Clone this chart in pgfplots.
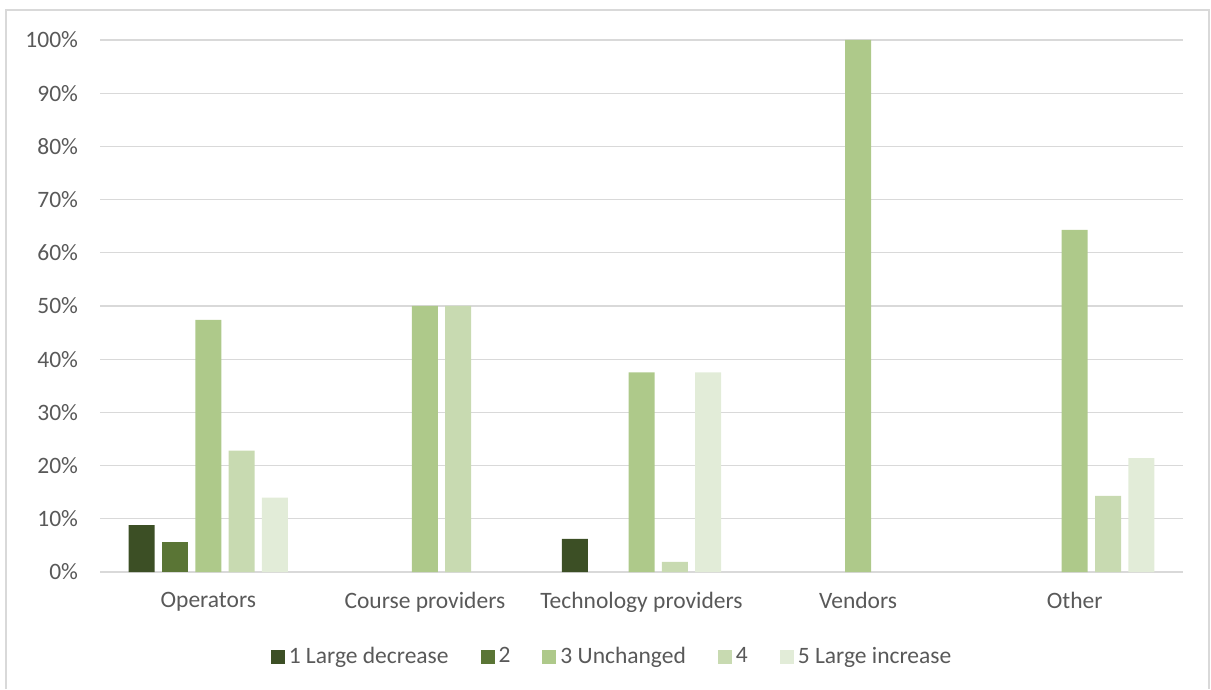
\documentclass[border=0pt]{standalone}
\usepackage{pgfplots}
\pgfplotsset{compat=1.18}
\usepackage{fontspec}
\setmainfont{Carlito}
\definecolor{txt}{HTML}{595959}
\definecolor{gridc}{HTML}{D9D9D9}
\definecolor{cA}{HTML}{3C4F25}
\definecolor{cB}{HTML}{5A7535}
\definecolor{cC}{HTML}{AEC98A}
\definecolor{cD}{HTML}{C8DAB1}
\definecolor{cE}{HTML}{E2ECD8}
\begin{document}
\fontsize{23.5}{28}\selectfont
\begin{tikzpicture}
\useasboundingbox (0pt,0pt) rectangle (1211pt,689pt);
\draw[gridc, line width=1.5pt] (6pt,0pt) -- (6pt,679pt) -- (1209pt,679pt) -- (1209pt,0pt);
\begin{axis}[
  at={(100pt,117pt)}, anchor=south west,
  scale only axis, width=1083pt, height=532pt,
  ybar=7.3pt, bar width=26pt,
  xmin=-0.5, xmax=4.5, ymin=0, ymax=100,
  xtick={0,1,2,3,4},
  xticklabels={Operators, Course providers, Technology providers, Vendors, Other},
  ytick={0,10,...,100},
  yticklabel={\pgfmathprintnumber{\tick}\%},
  /pgf/number format/assume math mode=true,
  tick style={draw=none},
  ymajorgrids, grid style={gridc, line width=1.2pt},
  axis lines*=left,
  y axis line style={draw=none},
  x axis line style={gridc, line width=1.5pt},
  tick label style={text=txt, font=\fontsize{23.5}{28}\selectfont},
  yticklabel style={anchor=east, xshift=-14pt},
  xticklabel style={yshift=-8pt},
  legend style={at={(0.4728,-0.1598)}, anchor=center, draw=none, fill=none,
    legend columns=5, text=txt, font=\fontsize{23.5}{28}\selectfont,
    /tikz/every even column/.append style={column sep=30pt},
    /tikz/every odd column/.append style={column sep=2pt}},
  legend cell align=left,
  legend image code/.code={\fill[#1] (0pt,-7pt) rectangle (14pt,7pt);},
]
\addplot[fill=cA, draw=none] coordinates {(0,8.8) (2,6.25)};
\addplot[fill=cB, draw=none] coordinates {(0,5.6)};
\addplot[fill=cC, draw=none] coordinates {(0,47.4) (1,50) (2,37.5) (3,100) (4,64.3)};
\addplot[fill=cD, draw=none] coordinates {(0,22.8) (1,50) (2,1.9) (4,14.3)};
\addplot[fill=cE, draw=none] coordinates {(0,14.0) (2,37.5) (4,21.4)};
\legend{1 Large decrease, 2, 3 Unchanged, 4, 5 Large increase}
\end{axis}
\end{tikzpicture}
\end{document}
